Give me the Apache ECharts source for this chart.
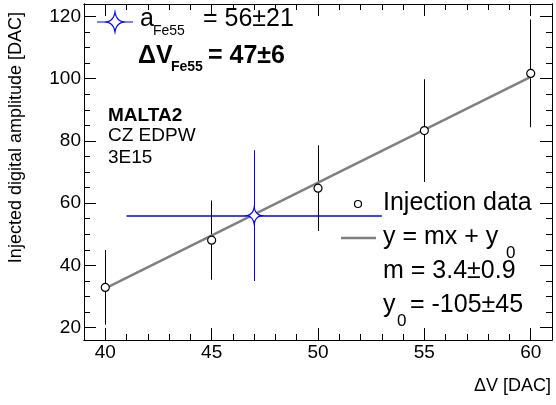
<!DOCTYPE html>
<html>
<head>
<meta charset="utf-8">
<script src="https://cdn.jsdelivr.net/npm/echarts@6/dist/echarts.min.js"></script>
<style>
  html, body { margin: 0; padding: 0; background: #fff; }
  #chart { width: 556px; height: 405px; }
</style>
</head>
<body>
<div id="chart"></div>
<script>
// injection points
var injX = [40, 45, 50, 55, 60];
var injY = [32.9, 48.1, 64.8, 83.3, 101.7];
var injErr = [12, 12.7, 13.8, 16.5, 17.3];
// fit line y = mx + y0
var fitX = [40, 60];
var fitY = [32.6, 100.6];
// Fe55 point
var feX = [47];
var feY = [56];
var feErrX = [6];
var feErrY = [21];
// ticks
var xMajor = [40, 45, 50, 55, 60];
var xMinor = [39, 41, 42, 43, 44, 46, 47, 48, 49, 51, 52, 53, 54, 56, 57, 58, 59];
var yMajor = [20, 40, 60, 80, 100, 120];
var yMinor = [25, 30, 35, 45, 50, 55, 65, 70, 75, 85, 90, 95, 105, 110, 115];

var FONT = 'Liberation Sans';
var STAR = 'M0,-10 Q1.5,-1.5 10,0 Q1.5,1.5 0,10 Q-1.5,1.5 -10,0 Q-1.5,-1.5 0,-10 Z';

// star outline as polygon points for the legend
function starPts(cx, cy, w, h) {
    var tips = [[0, -1], [1, 0], [0, 1], [-1, 0], [0, -1]];
    var pts = [];
    for (var k = 0; k < 4; k++) {
        var p0 = tips[k], p2 = tips[k + 1];
        var c = [(p0[0] + p2[0]) * 0.15, (p0[1] + p2[1]) * 0.15];
        for (var t = 0; t < 1; t += 0.1) {
            var u = 1 - t;
            var px = u * u * p0[0] + 2 * u * t * c[0] + t * t * p2[0];
            var py = u * u * p0[1] + 2 * u * t * c[1] + t * t * p2[1];
            pts.push([cx + px * w / 2, cy + py * h / 2]);
        }
    }
    return pts;
}

function xa(pos, vals, len, label) {
    return {
        type: 'value', position: pos, min: 39, max: 61,
        axisLine: { show: true, onZero: false, lineStyle: { color: '#000', width: 1 } },
        axisTick: { show: true, inside: true, length: len, customValues: vals, lineStyle: { color: '#000', width: 1 } },
        axisLabel: { show: label, customValues: vals, color: '#000', fontFamily: FONT, fontSize: 19, margin: 3 },
        splitLine: { show: false }
    };
}
function ya(pos, vals, len, label) {
    return {
        type: 'value', position: pos, min: 16, max: 124,
        axisLine: { show: true, onZero: false, lineStyle: { color: '#000', width: 1 } },
        axisTick: { show: true, inside: true, length: len, customValues: vals, lineStyle: { color: '#000', width: 1 } },
        axisLabel: { show: label, customValues: vals, color: '#000', fontFamily: FONT, fontSize: 19, margin: 3 },
        splitLine: { show: false }
    };
}

// error bars drawn as thin filled rects
function errBars(xs, ys, ex, ey, color) {
    return {
        type: 'custom',
        clip: true,
        data: xs.map(function (x, i) { return [x, ys[i], ex[i], ey[i]]; }),
        renderItem: function (params, api) {
            var x = api.value(0), y = api.value(1), dx = api.value(2), dy = api.value(3);
            var ch = [];
            var a = api.coord([x, y + dy]), b = api.coord([x, y - dy]);
            ch.push({ type: 'rect', shape: { x: Math.floor(a[0]), y: a[1], width: 1, height: b[1] - a[1] },
                      style: { fill: color, stroke: null } });
            if (dx > 0) {
                var c = api.coord([x - dx, y]), d = api.coord([x + dx, y]);
                ch.push({ type: 'rect', shape: { x: c[0], y: Math.round(c[1]) - 0.75, width: d[0] - c[0], height: 1.5 },
                          style: { fill: color, stroke: null } });
            }
            return { type: 'group', children: ch };
        },
        z: 2
    };
}

function txt(x, y, s, size, bold, align) {
    return {
        type: 'text', x: x, y: y, z: 10,
        style: { text: s, fill: '#000', font: (bold ? 'bold ' : '') + size + 'px "' + FONT + '"', textAlign: align || 'left', textVerticalAlign: 'middle' }
    };
}

var chart = echarts.init(document.getElementById('chart'));
chart.setOption({
    animation: false,
    grid: { left: 84, right: 4, top: 4, bottom: 65 },
    xAxis: [xa('bottom', xMajor, 12, true), xa('bottom', xMinor, 6, false), xa('top', xMajor, 12, false), xa('top', xMinor, 6, false)],
    yAxis: [ya('left', yMajor, 12, true), ya('left', yMinor, 6, false), ya('right', yMajor, 12, false), ya('right', yMinor, 6, false)],
    series: [
        errBars(injX, injY, injX.map(function () { return 0; }), injErr, '#000'),
        {
            type: 'line', data: fitX.map(function (x, i) { return [x, fitY[i]]; }),
            symbol: 'none', lineStyle: { color: '#808080', width: 2.5 }, z: 3
        },
        {
            type: 'scatter', data: injX.map(function (x, i) { return [x, injY[i]]; }),
            symbol: 'circle', symbolSize: 8,
            itemStyle: { color: '#fff', borderColor: '#000', borderWidth: 1.2, opacity: 1 }, z: 4
        },
        errBars(feX, feY, feErrX, feErrY, '#0000ff'),
        {
            type: 'scatter', data: feX.map(function (x, i) { return [x, feY[i]]; }),
            symbol: 'path://' + STAR, symbolSize: [14, 17],
            itemStyle: { color: '#fff', borderColor: '#0000ff', borderWidth: 1.2, opacity: 1 }, z: 5
        }
    ],
    graphic: [
        // axis titles
        { type: 'text', x: 16, y: 12, rotation: Math.PI / 2, z: 10,
          style: { text: 'Injected digital amplitude [DAC]', fill: '#000', font: '18px "' + FONT + '"', textAlign: 'right', textVerticalAlign: 'middle' } },
        txt(551, 386, '\u0394V [DAC]', 18, false, 'right'),
        // Fe55 legend
        { type: 'line', shape: { x1: 97, y1: 22, x2: 133, y2: 22 }, style: { stroke: '#0000ff', lineWidth: 1.2 }, z: 10 },
        { type: 'polygon', shape: { points: starPts(115, 22, 17, 20) },
          style: { fill: '#fff', stroke: '#0000ff', lineWidth: 1.2 }, z: 11 },
        txt(140, 19.5, 'a', 25),
        txt(153, 31, 'Fe55', 14),
        txt(203, 19.5, '= 56\u00b121', 25),
        txt(138, 56, '\u0394V', 25, true),
        txt(171, 67, 'Fe55', 14, true),
        txt(208, 56, '= 47\u00b16', 25, true),
        txt(108, 116, 'MALTA2', 19, true),
        txt(108, 136, 'CZ EDPW', 19),
        txt(108, 158, '3E15', 19),
        // injection legend
        { type: 'circle', shape: { cx: 358, cy: 204, r: 3.5 }, style: { fill: '#fff', stroke: '#000', lineWidth: 1.2 }, z: 10 },
        txt(383, 203.5, 'Injection data', 25),
        { type: 'line', shape: { x1: 341, y1: 238, x2: 376, y2: 238 }, style: { stroke: '#808080', lineWidth: 2.5 }, z: 10 },
        txt(383, 237, 'y = mx + y', 25),
        txt(506, 253, '0', 17),
        txt(383, 271, 'm = 3.4\u00b10.9', 25),
        txt(383, 305, 'y', 25),
        txt(397, 321, '0', 17),
        txt(410, 305, '= -105\u00b145', 25)
    ]
});
</script>
</body>
</html>
